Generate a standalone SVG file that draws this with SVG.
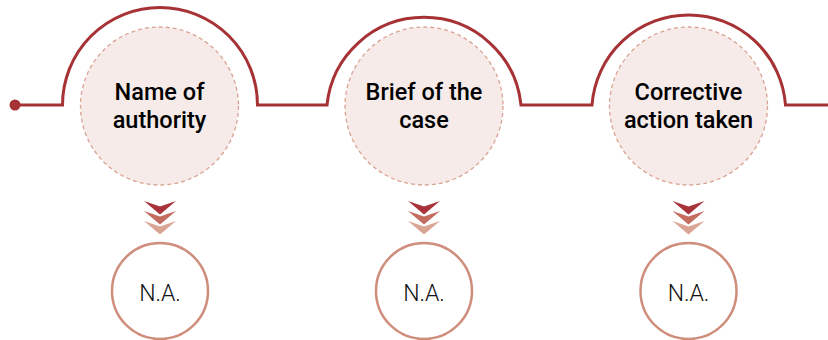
<svg xmlns="http://www.w3.org/2000/svg" width="828" height="340" viewBox="0 0 828 340">
<style>
.track{fill:none;stroke:#A63236;stroke-width:3}
.inner{fill:#F6EBE9;stroke:#D9A393;stroke-width:1.3;stroke-dasharray:4 3}
.title{font-family:Roboto,"Liberation Sans",sans-serif;font-weight:500;font-size:23.5px;fill:#000;text-anchor:middle}
.val{fill:#fff;stroke:#CF8E7C;stroke-width:2.5}
.vtxt{font-family:Roboto,"Liberation Sans",sans-serif;font-weight:300;font-size:23px;fill:#111;text-anchor:middle}
.c1{fill:#A8343A}.c2{fill:#C46C5E}.c3{fill:#DBA595}
</style>
<defs>
<polygon id="chev" points="-16,0 0,5.5 16,0 0,13.5"/>
</defs>
<g id="connectors">
<circle cx="15" cy="105" r="5.5" fill="#A63236"/>
<path class="track" d="M15 105 H62.5 A97.5 97.5 0 0 1 257.5 105 H327 A97.5 97.5 0 0 1 521 105 H592 A97 97 0 0 1 785.5 105 H828"/>
</g>
<g id="node1">
<circle class="inner" cx="159.5" cy="106" r="79"/>
<text class="title" x="159.5" y="100">Name of</text>
<text class="title" x="159.5" y="128">authority</text>
</g>
<g id="node2">
<circle class="inner" cx="424" cy="106" r="79"/>
<text class="title" x="424" y="100">Brief of the</text>
<text class="title" x="424" y="128">case</text>
</g>
<g id="node3">
<circle class="inner" cx="688.5" cy="106" r="79"/>
<text class="title" x="688.5" y="100">Corrective</text>
<text class="title" x="688.5" y="128">action taken</text>
</g>
<g id="arrows">
<use href="#chev" class="c1" x="160" y="201"/>
<use href="#chev" class="c2" x="160" y="211"/>
<use href="#chev" class="c3" x="160" y="221"/>
<use href="#chev" class="c1" x="424" y="201"/>
<use href="#chev" class="c2" x="424" y="211"/>
<use href="#chev" class="c3" x="424" y="221"/>
<use href="#chev" class="c1" x="688.5" y="201"/>
<use href="#chev" class="c2" x="688.5" y="211"/>
<use href="#chev" class="c3" x="688.5" y="221"/>
</g>
<g id="value1">
<circle class="val" cx="160" cy="291" r="48"/>
<text class="vtxt" x="160" y="301">N.A.</text>
</g>
<g id="value2">
<circle class="val" cx="424" cy="291" r="48"/>
<text class="vtxt" x="424" y="301">N.A.</text>
</g>
<g id="value3">
<circle class="val" cx="688.5" cy="291" r="48"/>
<text class="vtxt" x="688.5" y="301">N.A.</text>
</g>
</svg>
